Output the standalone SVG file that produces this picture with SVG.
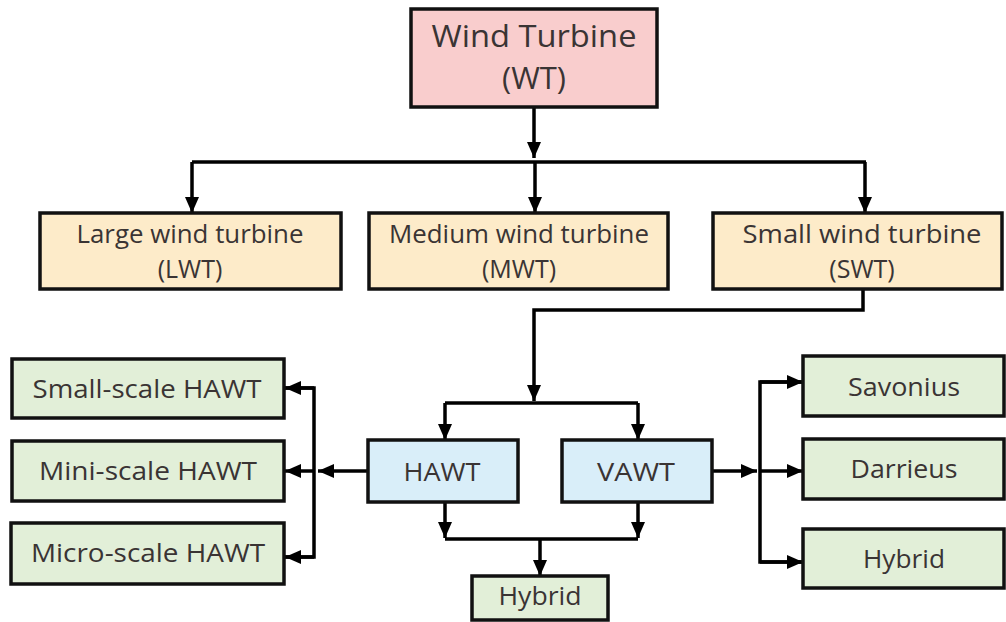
<svg xmlns="http://www.w3.org/2000/svg" width="1006" height="622" viewBox="0 0 1006 622">
<style>
.box{stroke:#111;stroke-width:3.5}
.pink{fill:#f9cdcd}
.cream{fill:#fdebc9}
.green{fill:#e2efd8}
.blue{fill:#d9eef9}
text{font-family:"Open Sans","DejaVu Sans",sans-serif;fill:#3a3434;text-anchor:middle}
.big{font-size:31px}
.mid{font-size:25px}
.con{fill:none;stroke:#000;stroke-width:3.5}
</style>
<defs>
<marker id="ah" markerUnits="userSpaceOnUse" markerWidth="16" markerHeight="16" viewBox="0 0 16 16" refX="16" refY="8" orient="auto">
<path d="M0,1 L16,8 L0,15 Z" fill="#000"/>
</marker>
</defs>
<rect width="1006" height="622" fill="#fff"/>
<g id="connectors">
<path class="con" d="M534,107 V158" marker-end="url(#ah)"/>
<path class="con" d="M192,162 H866"/>
<path class="con" d="M192,162 V213" marker-end="url(#ah)"/>
<path class="con" d="M535,162 V213" marker-end="url(#ah)"/>
<path class="con" d="M865,162 V213" marker-end="url(#ah)"/>
<path class="con" d="M863,289 V310 H534 V401" marker-end="url(#ah)"/>
<path class="con" d="M445,403 H638"/>
<path class="con" d="M445,403 V440" marker-end="url(#ah)"/>
<path class="con" d="M638,403 V440" marker-end="url(#ah)"/>
<path class="con" d="M445,502 V538" marker-end="url(#ah)"/>
<path class="con" d="M638,502 V538" marker-end="url(#ah)"/>
<path class="con" d="M445,539 H638"/>
<path class="con" d="M540,539 V576" marker-end="url(#ah)"/>
<path class="con" d="M368,471 H318" marker-end="url(#ah)"/>
<path class="con" d="M284,388 H314 V557 H284"/>
<path class="con" d="M314,388 H285" marker-end="url(#ah)"/>
<path class="con" d="M314,471 H285" marker-end="url(#ah)"/>
<path class="con" d="M314,557 H285" marker-end="url(#ah)"/>
<path class="con" d="M712,471 H757" marker-end="url(#ah)"/>
<path class="con" d="M803,382 H760 V562 H803"/>
<path class="con" d="M760,382 H803" marker-end="url(#ah)"/>
<path class="con" d="M760,471 H803" marker-end="url(#ah)"/>
<path class="con" d="M760,562 H803" marker-end="url(#ah)"/>
</g>
<g id="wt"><rect class="box pink" x="411" y="9" width="246" height="98"/>
<text class="big" x="534" y="47" textLength="205" lengthAdjust="spacingAndGlyphs">Wind Turbine</text>
<text class="big" x="534" y="89">(WT)</text></g>
<g id="lwt"><rect class="box cream" x="40" y="213" width="301" height="76"/>
<text class="mid" x="190" y="243" textLength="227" lengthAdjust="spacingAndGlyphs">Large wind turbine</text>
<text class="mid" x="190" y="278">(LWT)</text></g>
<g id="mwt"><rect class="box cream" x="369" y="213" width="299" height="76"/>
<text class="mid" x="519" y="243" textLength="260" lengthAdjust="spacingAndGlyphs">Medium wind turbine</text>
<text class="mid" x="519" y="278">(MWT)</text></g>
<g id="swt"><rect class="box cream" x="713" y="213" width="289" height="76"/>
<text class="mid" x="862" y="243" textLength="239" lengthAdjust="spacingAndGlyphs">Small wind turbine</text>
<text class="mid" x="862" y="278">(SWT)</text></g>
<g id="hawt"><rect class="box blue" x="368" y="440" width="150" height="62"/>
<text class="mid" x="442" y="481" textLength="77" lengthAdjust="spacingAndGlyphs">HAWT</text></g>
<g id="vawt"><rect class="box blue" x="562" y="440" width="150" height="62"/>
<text class="mid" x="636" y="481" textLength="78" lengthAdjust="spacingAndGlyphs">VAWT</text></g>
<g id="hybrid-mid"><rect class="box green" x="472" y="576" width="136" height="44"/>
<text class="mid" x="540" y="605" textLength="83" lengthAdjust="spacingAndGlyphs">Hybrid</text></g>
<g id="small-scale"><rect class="box green" x="12" y="359" width="272" height="59"/>
<text class="mid" x="147" y="398" textLength="229" lengthAdjust="spacingAndGlyphs">Small-scale HAWT</text></g>
<g id="mini-scale"><rect class="box green" x="12" y="441" width="272" height="60"/>
<text class="mid" x="148" y="480" textLength="218" lengthAdjust="spacingAndGlyphs">Mini-scale HAWT</text></g>
<g id="micro-scale"><rect class="box green" x="11" y="523" width="273" height="61"/>
<text class="mid" x="148" y="562" textLength="234" lengthAdjust="spacingAndGlyphs">Micro-scale HAWT</text></g>
<g id="savonius"><rect class="box green" x="803" y="356" width="201" height="60"/>
<text class="mid" x="904" y="396" textLength="112" lengthAdjust="spacingAndGlyphs">Savonius</text></g>
<g id="darrieus"><rect class="box green" x="803" y="439" width="201" height="60"/>
<text class="mid" x="904" y="478" textLength="107" lengthAdjust="spacingAndGlyphs">Darrieus</text></g>
<g id="hybrid-right"><rect class="box green" x="803" y="529" width="201" height="59"/>
<text class="mid" x="904" y="568" textLength="82" lengthAdjust="spacingAndGlyphs">Hybrid</text></g>
</svg>
